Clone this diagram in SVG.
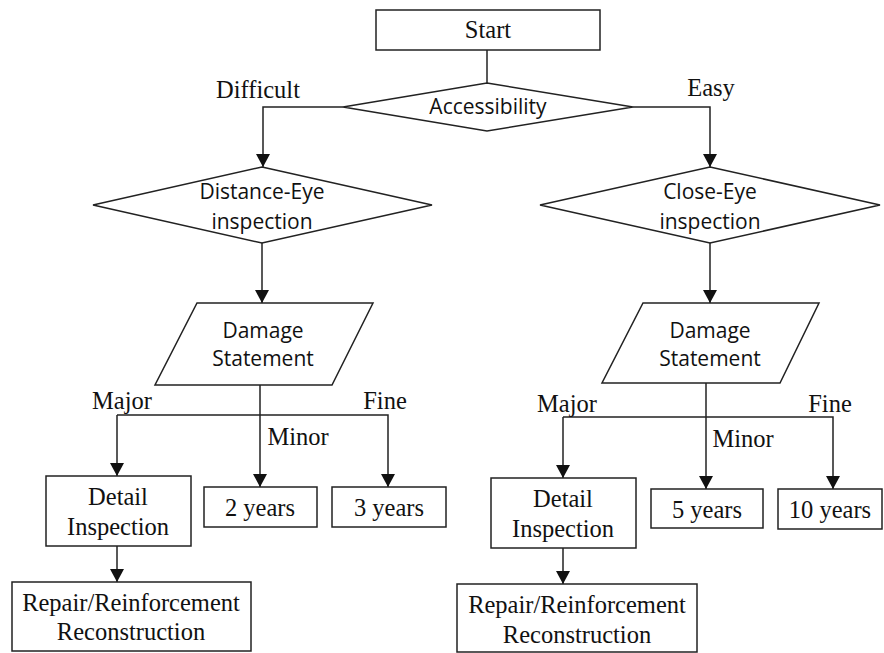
<svg xmlns="http://www.w3.org/2000/svg" width="884" height="653" viewBox="0 0 884 653">
<defs>
<marker id="arr" markerUnits="userSpaceOnUse" markerWidth="14" markerHeight="14" viewBox="0 0 14 14" refX="13" refY="7" orient="auto">
<path d="M0,0 L13,7 L0,14 Z" fill="#111"/>
</marker>
</defs>
<style>
.box{fill:#fff;stroke:#222;stroke-width:1.5}
.ln{fill:none;stroke:#222;stroke-width:1.5}
.serif{font-family:"Liberation Serif","Times New Roman",serif;font-size:24.5px;fill:#111;text-anchor:middle}
.sans{font-family:"Open Sans","Noto Sans",sans-serif;font-size:21px;fill:#111;text-anchor:middle}
</style>
<rect width="884" height="653" fill="#fff"/>
<g id="connectors">
<path class="ln" d="M487,50 V83"/>
<path class="ln" d="M343,107 H263 V167" marker-end="url(#arr)"/>
<path class="ln" d="M633,107 H710 V167" marker-end="url(#arr)"/>
<path class="ln" d="M262,243 V303" marker-end="url(#arr)"/>
<path class="ln" d="M710,243 V303" marker-end="url(#arr)"/>
<path class="ln" d="M260,385 V487" marker-end="url(#arr)"/>
<path class="ln" d="M117,415 H388 V487" marker-end="url(#arr)"/>
<path class="ln" d="M117,415 V476" marker-end="url(#arr)"/>
<path class="ln" d="M117,546 V582" marker-end="url(#arr)"/>
<path class="ln" d="M706,383 V489" marker-end="url(#arr)"/>
<path class="ln" d="M563,417 H833 V489" marker-end="url(#arr)"/>
<path class="ln" d="M563,417 V478" marker-end="url(#arr)"/>
<path class="ln" d="M563,548 V584" marker-end="url(#arr)"/>
<text class="serif" x="258" y="98">Difficult</text>
<text class="serif" x="711" y="96">Easy</text>
<text class="serif" x="122" y="409">Major</text>
<text class="serif" x="385" y="409">Fine</text>
<text class="serif" x="298" y="445">Minor</text>
<text class="serif" x="567" y="412">Major</text>
<text class="serif" x="830" y="412">Fine</text>
<text class="serif" x="743" y="447">Minor</text>
</g>
<g id="start">
<rect class="box" x="376" y="10" width="224" height="40"/>
<text class="serif" x="488" y="38">Start</text>
</g>
<g id="accessibility">
<polygon class="box" points="487,83 633,107 487,131 343,107"/>
<text class="sans" x="488" y="114">Accessibility</text>
</g>
<g id="distance-eye">
<polygon class="box" points="262,167 432,205 262,243 93,205"/>
<text class="sans" x="262" y="199">Distance-Eye</text>
<text class="sans" x="262" y="229">inspection</text>
</g>
<g id="close-eye">
<polygon class="box" points="710,167 880,205 710,243 540,205"/>
<text class="sans" x="710" y="199">Close-Eye</text>
<text class="sans" x="710" y="229">inspection</text>
</g>
<g id="damage-left">
<polygon class="box" points="197,303 373,303 332,385 155,385"/>
<text class="sans" x="263" y="338">Damage</text>
<text class="sans" x="263" y="366">Statement</text>
</g>
<g id="damage-right">
<polygon class="box" points="643,303 819,303 780,383 602,383"/>
<text class="sans" x="710" y="338">Damage</text>
<text class="sans" x="710" y="366">Statement</text>
</g>
<g id="detail-left">
<rect class="box" x="46" y="476" width="145" height="70"/>
<text class="serif" x="118" y="505">Detail</text>
<text class="serif" x="118" y="535">Inspection</text>
</g>
<g id="two-years">
<rect class="box" x="204" y="487" width="113" height="40"/>
<text class="serif" x="260" y="516">2 years</text>
</g>
<g id="three-years">
<rect class="box" x="332" y="487" width="114" height="40"/>
<text class="serif" x="389" y="516">3 years</text>
</g>
<g id="repair-left">
<rect class="box" x="12" y="582" width="239" height="69"/>
<text class="serif" x="131" y="611">Repair/Reinforcement</text>
<text class="serif" x="131" y="640">Reconstruction</text>
</g>
<g id="detail-right">
<rect class="box" x="491" y="478" width="145" height="70"/>
<text class="serif" x="563" y="507">Detail</text>
<text class="serif" x="563" y="537">Inspection</text>
</g>
<g id="five-years">
<rect class="box" x="651" y="489" width="112" height="39"/>
<text class="serif" x="707" y="518">5 years</text>
</g>
<g id="ten-years">
<rect class="box" x="778" y="489" width="104" height="40"/>
<text class="serif" x="830" y="518">10 years</text>
</g>
<g id="repair-right">
<rect class="box" x="457" y="584" width="240" height="68"/>
<text class="serif" x="577" y="613">Repair/Reinforcement</text>
<text class="serif" x="577" y="643">Reconstruction</text>
</g>
</svg>
